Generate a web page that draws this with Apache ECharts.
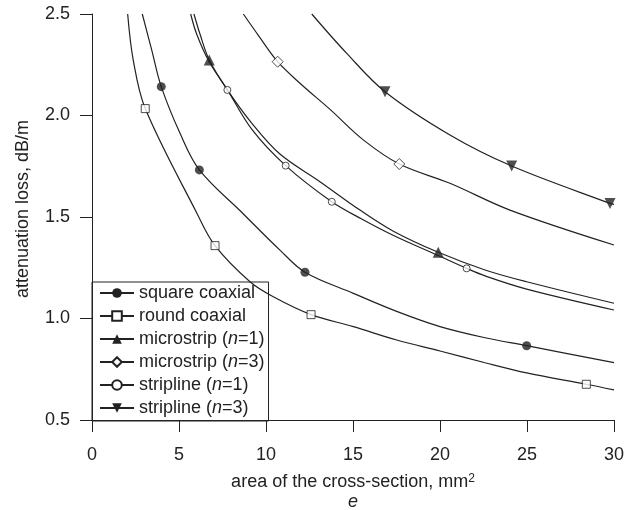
<!DOCTYPE html>
<html>
<head>
<meta charset="utf-8">
<script src="https://cdn.jsdelivr.net/npm/echarts@6/dist/echarts.min.js"></script>
<style>
  html, body { margin: 0; padding: 0; background: #fff; }
  #chart { width: 637px; height: 510px; }
</style>
</head>
<body>
<div id="chart"></div>
<script>
const FONT = "'Liberation Sans', Arial, Helvetica, sans-serif";
const INK = "#222";

// curves: [area mm², loss dB/m]
const squareCoaxCurve = [[2.89, 2.5], [3.43, 2.323], [3.98, 2.142], [5.06, 1.912], [6.17, 1.732], [8.7, 1.515],
  [10.8, 1.337], [12.24, 1.228], [15.02, 1.124], [17.51, 1.035], [20.0, 0.96], [22.59, 0.905], [24.98, 0.866], [30.0, 0.783]];
const roundCoaxCurve = [[2.05, 2.5], [2.37, 2.273], [3.06, 2.034], [6.05, 1.515], [7.07, 1.359], [9.08, 1.181],
  [10.42, 1.107], [12.59, 1.019], [15.02, 0.96], [17.51, 0.894], [20.0, 0.84], [22.59, 0.782], [24.98, 0.732], [28.41, 0.676], [30.0, 0.648]];
const microstrip1Curve = [[5.86, 2.5], [6.21, 2.4], [6.74, 2.273], [7.78, 2.126], [9.2, 1.96], [10.8, 1.81],
  [13.1, 1.674], [15.4, 1.534], [17.32, 1.43], [19.9, 1.326], [22.59, 1.239], [24.98, 1.181], [30.0, 1.075]];
const microstrip3Curve = [[8.7, 2.5], [9.6, 2.39], [10.67, 2.265], [11.95, 2.159], [13.68, 2.03], [15.59, 1.88], [17.66, 1.761],
  [20.57, 1.666], [24.02, 1.534], [30.0, 1.362]];
const stripline1Curve = [[5.67, 2.5], [6.02, 2.4], [6.7, 2.27], [7.78, 2.126], [9.2, 1.93], [11.13, 1.753],
  [13.78, 1.575], [15.5, 1.49], [17.3, 1.41], [19.9, 1.31], [21.53, 1.247], [22.59, 1.21], [24.98, 1.145], [30.0, 1.042]];
const stripline3Curve = [[12.63, 2.5], [14.64, 2.306], [16.84, 2.117], [20.57, 1.904], [24.12, 1.751], [29.77, 1.567], [30.0, 1.562]];

// marked points on each curve
const squareCoaxMarks = [[3.98, 2.142], [6.17, 1.732], [12.24, 1.228], [24.98, 0.866]];
const roundCoaxMarks = [[3.06, 2.034], [7.07, 1.359], [12.59, 1.019], [28.41, 0.676]];
const microstrip1Marks = [[6.74, 2.273], [19.9, 1.326]];
const microstrip3Marks = [[10.67, 2.265], [17.66, 1.761]];
const stripline1Marks = [[7.78, 2.126], [11.13, 1.753], [13.78, 1.575], [21.53, 1.247]];
const stripline3Marks = [[16.84, 2.117], [24.12, 1.751], [29.77, 1.567]];

const seriesNames = ["square coaxial", "round coaxial", "microstrip (n=1)", "microstrip (n=3)", "stripline (n=1)", "stripline (n=3)"];

const filled = { color: INK, borderColor: INK, borderWidth: 0 };
const hollow = { color: "#fff", borderColor: INK, borderWidth: 1 };

const markerStyles = [
  { symbol: "circle", size: 9, rotate: 0, item: filled },
  { symbol: "rect", size: 8, rotate: 0, item: hollow },
  { symbol: "triangle", size: 11, rotate: 0, item: filled },
  { symbol: "diamond", size: 11, rotate: 0, item: hollow },
  { symbol: "circle", size: 7, rotate: 0, item: hollow },
  { symbol: "triangle", size: 11, rotate: 180, item: filled }
];

const curves = [squareCoaxCurve, roundCoaxCurve, microstrip1Curve, microstrip3Curve, stripline1Curve, stripline3Curve];
const marks = [squareCoaxMarks, roundCoaxMarks, microstrip1Marks, microstrip3Marks, stripline1Marks, stripline3Marks];

const lineSeries = seriesNames.map((name, i) => ({
  name,
  type: "line",
  data: curves[i],
  smooth: 0.35,
  showSymbol: false,
  symbol: markerStyles[i].symbol,
  symbolRotate: markerStyles[i].rotate,
  itemStyle: markerStyles[i].item,
  lineStyle: { color: INK, width: 1.2 },
  silent: true,
  z: 2
}));

const markSeries = seriesNames.map((name, i) => ({
  name,
  type: "scatter",
  data: marks[i],
  symbol: markerStyles[i].symbol,
  symbolSize: markerStyles[i].size,
  symbolRotate: markerStyles[i].rotate,
  itemStyle: markerStyles[i].item,
  silent: true,
  z: 3
}));

const chart = echarts.init(document.getElementById("chart"), null, { renderer: "canvas" });

chart.setOption({
  animation: false,
  backgroundColor: "#fff",
  textStyle: { fontFamily: FONT, color: INK },
  grid: { left: 92, right: 23, top: 14, bottom: 90, containLabel: false, outerBoundsMode: "none" },
  legend: {
    data: seriesNames,
    orient: "vertical",
    left: 92,
    top: 282,
    padding: [2, 4, 4, 7],
    itemWidth: 34,
    itemHeight: 12,
    itemGap: 5,
    borderColor: INK,
    borderWidth: 1,
    selectedMode: false,
    formatter: (name) => name.replace("(n=", "({i|n}="),
    textStyle: {
      fontFamily: FONT,
      fontSize: 18,
      lineHeight: 18,
      color: INK,
      rich: { i: { fontFamily: FONT, fontSize: 18, lineHeight: 18, fontStyle: "italic", color: INK } }
    }
  },
  xAxis: {
    type: "value",
    min: 0,
    max: 30,
    interval: 5,
    name: "area of the cross-section, mm{sup|2}\n{it|e}",
    nameLocation: "middle",
    nameGap: 53,
    nameTextStyle: {
      fontFamily: FONT,
      fontSize: 18,
      lineHeight: 19,
      color: INK,
      rich: {
        sup: { fontFamily: FONT, fontSize: 12, lineHeight: 12, verticalAlign: "top", color: INK },
        it: { fontFamily: FONT, fontSize: 18, lineHeight: 19, fontStyle: "italic", color: INK }
      }
    },
    axisLine: { show: true, onZero: false, lineStyle: { color: INK, width: 1 } },
    axisTick: { show: true, inside: false, length: 12, lineStyle: { color: INK, width: 1 } },
    axisLabel: { fontFamily: FONT, fontSize: 18, color: INK, margin: 26 },
    splitLine: { show: false }
  },
  yAxis: {
    type: "value",
    min: 0.5,
    max: 2.5,
    interval: 0.5,
    name: "attenuation loss, dB/m",
    nameLocation: "middle",
    nameGap: 60,
    nameTextStyle: { fontFamily: FONT, fontSize: 18, color: INK, padding: [0, 0, 0, 16] },
    axisLine: { show: true, onZero: false, lineStyle: { color: INK, width: 1 } },
    axisTick: { show: true, inside: false, length: 12, lineStyle: { color: INK, width: 1 } },
    axisLabel: { fontFamily: FONT, fontSize: 18, color: INK, margin: 22, formatter: (v) => v.toFixed(1) },
    splitLine: { show: false }
  },
  series: [...lineSeries, ...markSeries]
});
</script>
</body>
</html>
